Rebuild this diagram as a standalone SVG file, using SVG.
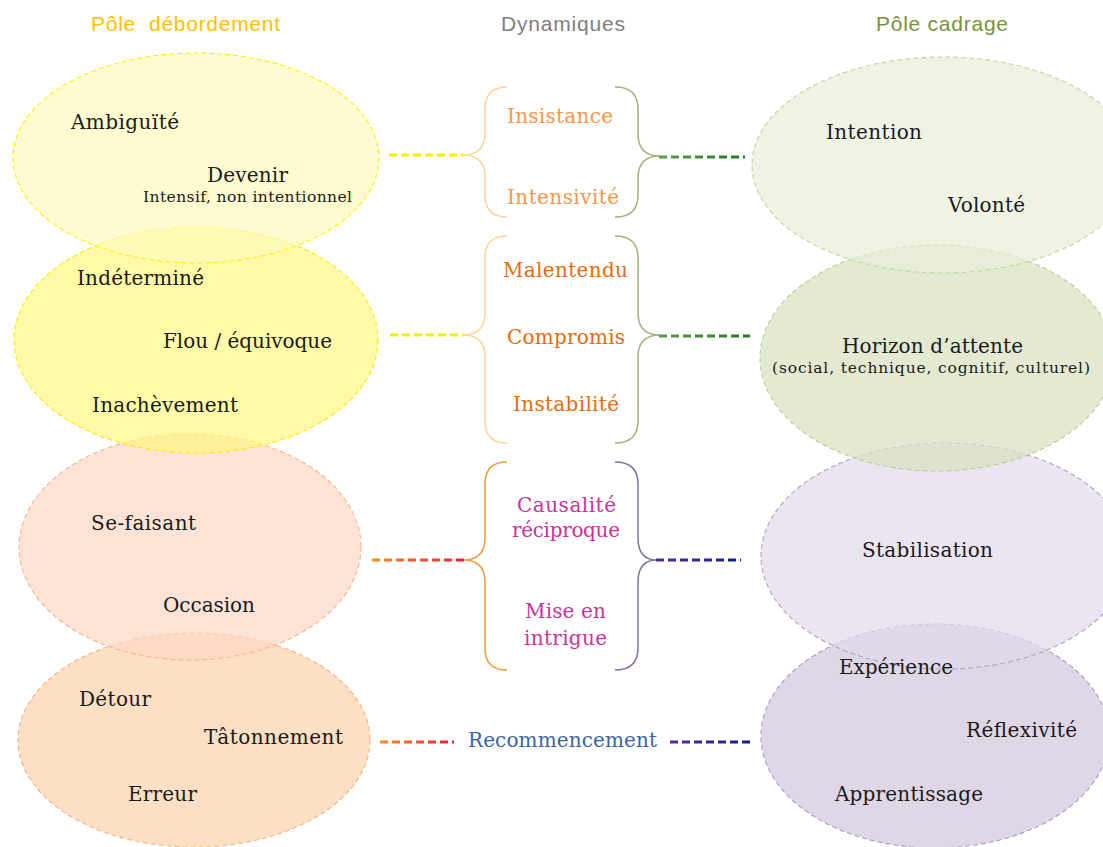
<svg xmlns="http://www.w3.org/2000/svg" width="1103" height="847" viewBox="0 0 1103 847">
  <style>
    .hdr { font-family: "Liberation Sans", Arial, sans-serif; font-size: 21px; }
    .t { font-family: "DejaVu Serif", "Liberation Serif", serif; font-size: 20px; fill: #1a1a1a; }
    .s { font-family: "DejaVu Serif", "Liberation Serif", serif; font-size: 15.5px; fill: #1a1a1a; }
    .dyn { font-family: "DejaVu Serif", "Liberation Serif", serif; font-size: 20px; }
    .e { stroke-width: 1.1; stroke-dasharray: 5 3; fill-opacity: 0.7; }
    .brace { fill: none; stroke-width: 1.5; }
    .dash { fill: none; stroke-width: 3; stroke-dasharray: 8 4; }
  </style>
  <defs>
    <linearGradient id="gOR1" gradientUnits="userSpaceOnUse" x1="372" y1="0" x2="463" y2="0">
      <stop offset="0" stop-color="#FF8C1A"/>
      <stop offset="1" stop-color="#F01E3C"/>
    </linearGradient>
    <linearGradient id="gOR2" gradientUnits="userSpaceOnUse" x1="380" y1="0" x2="452" y2="0">
      <stop offset="0" stop-color="#FF8C1A"/>
      <stop offset="1" stop-color="#F01E3C"/>
    </linearGradient>
    <linearGradient id="gPN1" gradientUnits="userSpaceOnUse" x1="655" y1="0" x2="740" y2="0">
      <stop offset="0" stop-color="#5A2A9A"/>
      <stop offset="1" stop-color="#0A1E96"/>
    </linearGradient>
    <linearGradient id="gPN2" gradientUnits="userSpaceOnUse" x1="670" y1="0" x2="750" y2="0">
      <stop offset="0" stop-color="#5A2A9A"/>
      <stop offset="1" stop-color="#0A1E96"/>
    </linearGradient>
    <linearGradient id="gG1" gradientUnits="userSpaceOnUse" x1="655" y1="0" x2="745" y2="0">
      <stop offset="0" stop-color="#5E9E4A"/>
      <stop offset="1" stop-color="#1E7A1E"/>
    </linearGradient>
    <linearGradient id="gG2" gradientUnits="userSpaceOnUse" x1="655" y1="0" x2="750" y2="0">
      <stop offset="0" stop-color="#5E9E4A"/>
      <stop offset="1" stop-color="#1E7A1E"/>
    </linearGradient>
  </defs>

  <rect width="1103" height="847" fill="#ffffff"/>

  <g id="headers">
    <text class="hdr" x="91" y="31" fill="#FFC000" textLength="189" xml:space="preserve">Pôle  débordement</text>
    <text class="hdr" x="501" y="31" fill="#808080" textLength="124">Dynamiques</text>
    <text class="hdr" x="876" y="31" fill="#77933C" textLength="132">Pôle cadrage</text>
  </g>

  <!-- Left pole (lower ellipses drawn first, upper ones overlay them) -->
  <g id="node-tatonnement">
    <ellipse class="e" cx="194" cy="740" rx="176" ry="107" fill="#FCD1AB" stroke="#F8B07C"/>
  </g>
  <g id="node-sefaisant">
    <ellipse class="e" cx="190" cy="547" rx="171" ry="113" fill="#FCD7C4" stroke="#F9B48A"/>
  </g>
  <g id="node-flou">
    <ellipse class="e" cx="196" cy="340" rx="182" ry="113" fill="#FFF783" stroke="#FFEA00"/>
  </g>
  <g id="node-devenir">
    <ellipse class="e" cx="196" cy="158" rx="183" ry="105" fill="#FFF9BC" stroke="#FFF000" stroke-dasharray="6 2 2 2"/>
  </g>

  <!-- Right pole -->
  <g id="node-experience">
    <ellipse class="e" cx="935" cy="736" rx="174" ry="112" fill="#D1C4DB" stroke="#AA99CC"/>
  </g>
  <g id="node-stabilisation">
    <ellipse class="e" cx="945" cy="556" rx="184" ry="113" fill="#E1DAEB" stroke="#AFA0CC"/>
  </g>
  <g id="node-horizon">
    <ellipse class="e" cx="937" cy="358" rx="177" ry="113" fill="#D8E1BF" stroke="#B9CF8E"/>
  </g>
  <g id="node-intention">
    <ellipse class="e" cx="943" cy="165" rx="191" ry="108" fill="#E8EED7" stroke="#C3D69B"/>
  </g>

  <!-- Texts (drawn over all ellipses) -->
  <g id="labels-left">
    <text class="t" x="71" y="129" textLength="108">Ambiguïté</text>
    <text class="t" x="207" y="182" textLength="81">Devenir</text>
    <text class="s" x="143" y="202" textLength="209">Intensif, non intentionnel</text>
    <text class="t" x="77" y="285" textLength="127">Indéterminé</text>
    <text class="t" x="163" y="348" textLength="169">Flou / équivoque</text>
    <text class="t" x="92" y="412" textLength="146">Inachèvement</text>
    <text class="t" x="91" y="530" textLength="105">Se-faisant</text>
    <text class="t" x="163" y="612" textLength="92">Occasion</text>
    <text class="t" x="79" y="706" textLength="72">Détour</text>
    <text class="t" x="204" y="744" textLength="139">Tâtonnement</text>
    <text class="t" x="128" y="801" textLength="69">Erreur</text>
  </g>
  <g id="labels-right">
    <text class="t" x="826" y="139" textLength="96">Intention</text>
    <text class="t" x="948" y="212" textLength="77">Volonté</text>
    <text class="t" x="842" y="353" textLength="181">Horizon d’attente</text>
    <text class="s" x="772" y="373" textLength="318">(social, technique, cognitif, culturel)</text>
    <text class="t" x="862" y="557" textLength="131">Stabilisation</text>
    <text class="t" x="839" y="674" textLength="114">Expérience</text>
    <text class="t" x="966" y="737" textLength="111">Réflexivité</text>
    <text class="t" x="835" y="801" textLength="148">Apprentissage</text>
  </g>

  <!-- Dynamics -->
  <g id="node-dyn1">
    <text class="dyn" x="507" y="123" fill="#F79646" textLength="106">Insistance</text>
    <text class="dyn" x="507" y="204" fill="#F79646" textLength="112">Intensivité</text>
  </g>
  <g id="node-dyn2">
    <text class="dyn" x="503" y="277" fill="#E46C0A" textLength="125">Malentendu</text>
    <text class="dyn" x="507" y="344" fill="#E46C0A" textLength="118">Compromis</text>
    <text class="dyn" x="513" y="411" fill="#E46C0A" textLength="106">Instabilité</text>
  </g>
  <g id="node-dyn3">
    <text class="dyn" x="517" y="512" fill="#CC3399" textLength="99">Causalité</text>
    <text class="dyn" x="512" y="537" fill="#CC3399" textLength="108">réciproque</text>
    <text class="dyn" x="525" y="618" fill="#CC3399" textLength="81">Mise en</text>
    <text class="dyn" x="524" y="645" fill="#CC3399" textLength="83">intrigue</text>
  </g>
  <g id="node-dyn4">
    <text class="dyn" x="468" y="747" fill="#3B64A0" textLength="189">Recommencement</text>
  </g>

  <g id="connectors">
    <!-- braces group 1 -->
    <path class="brace" stroke="#FDD597" d="M507,87 Q485,87 485,109 L485,133 Q485,155 463,155 Q485,155 485,177 L485,195 Q485,217 507,217"/>
    <path class="brace" stroke="#A2B47E" d="M615,87 Q638,87 638,109 L638,134 Q638,156 660,156 Q638,156 638,178 L638,195 Q638,217 615,217"/>
    <!-- braces group 2 -->
    <path class="brace" stroke="#FDD597" d="M507,236 Q485,236 485,258 L485,313 Q485,335 463,335 Q485,335 485,357 L485,421 Q485,443 507,443"/>
    <path class="brace" stroke="#A2B47E" d="M615,236 Q638,236 638,258 L638,313 Q638,335 660,335 Q638,335 638,357 L638,421 Q638,443 615,443"/>
    <!-- braces group 3 -->
    <path class="brace" stroke="#F59A3C" d="M507,462 Q485,462 485,484 L485,538 Q485,560 463,560 Q485,560 485,582 L485,648 Q485,670 507,670"/>
    <path class="brace" stroke="#8470A0" d="M615,462 Q638,462 638,484 L638,538 Q638,560 657,560 Q638,560 638,582 L638,648 Q638,670 615,670"/>

    <!-- dashed links -->
    <line class="dash" x1="389" y1="155" x2="463" y2="155" stroke="#F5F000"/>
    <line class="dash" x1="659" y1="157" x2="745" y2="157" stroke="url(#gG1)"/>
    <line class="dash" x1="390" y1="335" x2="463" y2="335" stroke="#F5F000"/>
    <line class="dash" x1="659" y1="336" x2="750" y2="336" stroke="url(#gG2)"/>
    <line class="dash" x1="372" y1="560" x2="465" y2="560" stroke="url(#gOR1)"/>
    <line class="dash" x1="656" y1="560" x2="741" y2="560" stroke="url(#gPN1)"/>
    <line class="dash" x1="380" y1="742" x2="454" y2="742" stroke="url(#gOR2)"/>
    <line class="dash" x1="670" y1="742" x2="750" y2="742" stroke="url(#gPN2)"/>
  </g>
</svg>
